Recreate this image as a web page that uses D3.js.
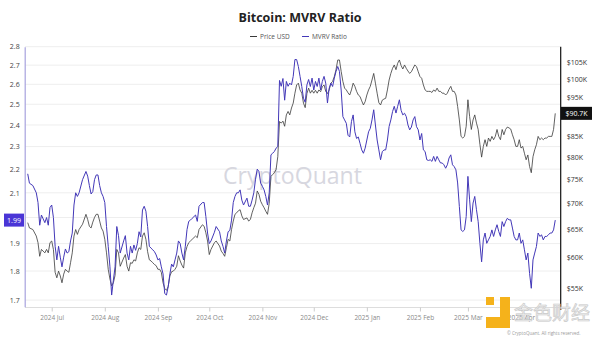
<!DOCTYPE html>
<html>
<head>
<meta charset="utf-8">
<script src="https://cdn.jsdelivr.net/npm/d3@7"></script>
<style>
  body { margin: 0; background: #fff; }
  svg { display: block; font-family: "Open Sans", "Noto Sans", sans-serif; }
</style>
</head>
<body>
<div class="container"></div>
<script>
// daily values (a few days skipped where unreadable)
const dates = [
  "2024-06-17","2024-06-18","2024-06-20","2024-06-22","2024-06-23","2024-06-24","2024-06-25","2024-06-27","2024-06-28","2024-06-29","2024-06-30",
  "2024-07-01","2024-07-02","2024-07-03","2024-07-04","2024-07-05","2024-07-06","2024-07-07","2024-07-08","2024-07-09","2024-07-10",
  "2024-07-11","2024-07-12","2024-07-13","2024-07-14","2024-07-15","2024-07-16","2024-07-17","2024-07-19","2024-07-21","2024-07-22",
  "2024-07-23","2024-07-24","2024-07-25","2024-07-26","2024-07-27","2024-07-28","2024-07-29","2024-07-30","2024-07-31",
  "2024-08-01","2024-08-02","2024-08-03","2024-08-04","2024-08-05","2024-08-06","2024-08-07","2024-08-08","2024-08-09","2024-08-10",
  "2024-08-12","2024-08-13","2024-08-14","2024-08-15","2024-08-16","2024-08-17","2024-08-18","2024-08-19","2024-08-20","2024-08-21",
  "2024-08-22","2024-08-23","2024-08-24","2024-08-25","2024-08-26","2024-08-27","2024-08-28","2024-08-29","2024-08-30","2024-08-31",
  "2024-09-01","2024-09-02","2024-09-03","2024-09-04","2024-09-05","2024-09-06","2024-09-07","2024-09-08","2024-09-09","2024-09-10",
  "2024-09-11","2024-09-12","2024-09-13","2024-09-14","2024-09-15","2024-09-16","2024-09-17","2024-09-18","2024-09-19","2024-09-20",
  "2024-09-21","2024-09-23","2024-09-24","2024-09-25","2024-09-27","2024-09-28","2024-09-29","2024-09-30",
  "2024-10-01","2024-10-02","2024-10-04","2024-10-05","2024-10-07","2024-10-08","2024-10-09","2024-10-10","2024-10-11","2024-10-12",
  "2024-10-13","2024-10-14","2024-10-15","2024-10-16","2024-10-17","2024-10-18","2024-10-19","2024-10-20","2024-10-21","2024-10-23",
  "2024-10-24","2024-10-25","2024-10-26","2024-10-27","2024-10-28","2024-10-29","2024-10-30","2024-10-31",
  "2024-11-01","2024-11-02","2024-11-03","2024-11-04","2024-11-05","2024-11-06","2024-11-07","2024-11-08","2024-11-09","2024-11-10",
  "2024-11-11","2024-11-12","2024-11-13","2024-11-14","2024-11-15","2024-11-16","2024-11-17","2024-11-18","2024-11-19","2024-11-20",
  "2024-11-21","2024-11-22","2024-11-23","2024-11-24","2024-11-25","2024-11-26","2024-11-27","2024-11-28","2024-11-29","2024-11-30",
  "2024-12-01","2024-12-02","2024-12-03","2024-12-04","2024-12-05","2024-12-06","2024-12-07","2024-12-08","2024-12-09","2024-12-10",
  "2024-12-11","2024-12-12","2024-12-13","2024-12-14","2024-12-15","2024-12-16","2024-12-17","2024-12-18","2024-12-19","2024-12-20",
  "2024-12-21","2024-12-22","2024-12-23","2024-12-24","2024-12-25","2024-12-26","2024-12-27","2024-12-28","2024-12-29","2024-12-30","2024-12-31",
  "2025-01-01","2025-01-02","2025-01-03","2025-01-04","2025-01-05","2025-01-06","2025-01-07","2025-01-08","2025-01-09","2025-01-10",
  "2025-01-11","2025-01-12","2025-01-13","2025-01-14","2025-01-15","2025-01-16","2025-01-17","2025-01-18","2025-01-19","2025-01-20",
  "2025-01-21","2025-01-22","2025-01-23","2025-01-24","2025-01-25","2025-01-26","2025-01-27","2025-01-28","2025-01-29","2025-01-30","2025-01-31",
  "2025-02-01","2025-02-02","2025-02-03","2025-02-04","2025-02-05","2025-02-06","2025-02-07","2025-02-08","2025-02-09","2025-02-10",
  "2025-02-11","2025-02-12","2025-02-13","2025-02-14","2025-02-15","2025-02-16","2025-02-17","2025-02-18","2025-02-19","2025-02-20",
  "2025-02-21","2025-02-22","2025-02-23","2025-02-24","2025-02-25","2025-02-26","2025-02-27","2025-02-28",
  "2025-03-01","2025-03-02","2025-03-03","2025-03-04","2025-03-05","2025-03-06","2025-03-07","2025-03-08","2025-03-09","2025-03-10",
  "2025-03-11","2025-03-12","2025-03-13","2025-03-14","2025-03-15","2025-03-16","2025-03-17","2025-03-18","2025-03-19","2025-03-20",
  "2025-03-21","2025-03-22","2025-03-23","2025-03-24","2025-03-25","2025-03-26","2025-03-27","2025-03-28","2025-03-29","2025-03-30","2025-03-31",
  "2025-04-01","2025-04-02","2025-04-03","2025-04-04","2025-04-05","2025-04-06","2025-04-07","2025-04-08","2025-04-09","2025-04-10",
  "2025-04-11","2025-04-12","2025-04-13","2025-04-14","2025-04-15","2025-04-16","2025-04-17","2025-04-18","2025-04-19","2025-04-20","2025-04-21"
]

const mvrv = [
  2.18,2.14,2.13,2.10,2.06,1.97,2.01,1.98,2.00,1.97,2.04,
  2.05,2.00,1.89,1.84,1.89,1.85,1.815,1.85,1.88,1.865,
  1.87,1.91,1.94,2.05,2.10,2.085,2.10,2.155,2.19,2.17,
  2.13,2.095,2.105,2.155,2.175,2.175,2.13,2.10,2.085,
  2.06,1.965,1.89,1.815,1.717,1.768,1.815,1.965,1.93,1.865,
  1.91,1.93,1.865,1.84,1.89,1.865,1.895,1.875,1.90,1.945,
  1.925,2.03,2.045,2.025,1.965,1.89,1.883,1.877,1.87,1.858,
  1.84,1.845,1.815,1.79,1.722,1.717,1.745,1.79,1.825,1.815,
  1.84,1.865,1.91,1.90,1.865,1.84,1.89,1.953,1.985,1.99,
  1.997,2.01,1.985,2.045,2.06,2.06,2.004,1.94,
  1.90,1.91,1.943,1.965,1.945,1.91,1.89,1.865,1.91,1.945,
  1.95,1.99,2.06,2.085,2.10,2.10,2.112,2.07,2.05,2.078,
  2.045,2.045,2.07,2.10,2.157,2.20,2.19,2.14,
  2.127,2.112,2.085,2.05,2.10,2.263,2.27,2.278,2.293,2.30,
  2.62,2.59,2.63,2.52,2.615,2.59,2.606,2.597,2.641,2.73,
  2.73,2.693,2.641,2.589,2.53,2.51,2.597,2.625,2.589,2.632,
  2.571,2.615,2.589,2.632,2.571,2.615,2.641,2.606,2.506,2.58,
  2.606,2.589,2.632,2.667,2.693,2.667,2.571,2.44,2.424,2.408,
  2.352,2.344,2.416,2.448,2.368,2.337,2.344,2.315,2.285,2.27,2.293,
  2.33,2.368,2.384,2.424,2.473,2.40,2.33,2.285,2.241,2.277,
  2.285,2.285,2.33,2.393,2.424,2.464,2.49,2.457,2.49,2.522,
  2.47,2.448,2.456,2.44,2.40,2.377,2.39,2.424,2.44,2.392,2.377,
  2.33,2.36,2.285,2.278,2.241,2.238,2.241,2.234,2.256,2.234,
  2.256,2.241,2.227,2.227,2.219,2.204,2.219,2.249,2.263,2.219,
  2.211,2.197,2.141,2.044,1.952,1.946,1.952,2.004,
  2.169,2.071,1.984,2.058,2.085,2.031,1.984,1.901,1.833,1.914,
  1.94,1.901,1.914,1.927,1.952,1.927,1.952,1.972,1.946,1.927,
  1.984,1.965,1.984,1.997,1.991,1.991,1.959,1.927,1.914,1.914,1.94,
  1.901,1.914,1.877,1.84,1.865,1.792,1.74,1.84,1.865,1.889,
  1.94,1.927,1.933,1.914,1.927,1.927,1.933,1.94,1.94,1.952,1.99
]

const priceUsd = [
  66300,65300,65000,63800,62600,60200,61400,60800,61400,60800,62600,
  62900,61400,57500,56600,57700,56900,55800,57200,58000,57700,
  57500,59100,60800,63800,65000,64100,65000,66000,67900,66900,
  65600,65300,66400,67300,67900,67900,66600,65300,64700,
  63200,60800,58000,56400,55300,55800,57000,61400,60800,58500,
  59900,60500,58500,57700,59100,59000,59600,59400,60800,61700,
  61400,63800,64400,63200,61000,59600,59400,59100,58800,58600,
  58000,58000,57500,55800,54900,54600,55200,56900,57600,57700,
  58000,58500,60300,59400,58700,58200,60800,61900,62600,62900,
  63200,63800,63500,65000,65900,65600,64400,62900,
  60500,61400,62600,62900,62000,61100,60700,60200,61700,63200,
  62900,65000,66600,67900,68200,68600,68800,67600,66900,67200,
  66600,66900,68200,69200,70100,72600,71900,70500,
  69800,69200,68500,67900,70100,75700,76100,76500,77200,80100,
  88600,88200,88700,87400,90300,91200,90300,92100,93400,96100,
  98400,98900,97000,96100,93400,92200,96000,97500,96100,96900,
  96100,96900,96100,97000,96500,97900,98400,96600,96000,97000,
  98900,99400,100800,102800,105700,105700,102300,99400,97500,97000,
  96200,95600,97000,98900,98000,96600,95600,95200,94000,92900,93800,
  95600,97000,98000,99800,101700,98900,96100,93500,92900,94200,
  94500,94700,97000,99800,101700,103200,104200,102800,104700,105700,
  104000,103000,104200,103200,102400,101700,102200,103200,104200,103700,102200,
  100800,100300,98400,97000,96600,96600,96600,96300,97000,96600,
  97500,96600,96600,96100,96100,95600,96100,97200,98000,96600,
  96600,95600,92500,89000,84900,84500,84900,87400,
  94300,89900,86600,89000,90300,88200,86600,83000,80000,82500,
  84100,82500,84500,83700,84900,84100,84900,86600,84900,84100,
  86600,85300,86600,87200,87000,86700,85300,84100,82500,82500,84100,
  82100,82500,80900,79400,80500,77900,76500,80100,81700,82900,
  84900,84100,84500,84100,84500,84500,84900,84900,84900,86600,90700
]

const mvrvTicks = [1.7, 1.8, 1.9, 2.0, 2.1, 2.2, 2.3, 2.4, 2.5, 2.6, 2.7, 2.8]
const priceTicks = [55000, 60000, 65000, 70000, 75000, 80000, 85000, 90000, 95000, 100000, 105000]
const monthTicks = ["2024-07-01","2024-08-01","2024-09-01","2024-10-01","2024-11-01","2024-12-01",
                    "2025-01-01","2025-02-01","2025-03-01","2025-04-01"]

const width = 600
const height = 338
const margin = { top: 46.7, bottom: 31.3, left: 24.7, right: 39.3 }
const purple = "#4338b8"
const priceColor = "#3a3a3a"

const parse = d3.utcParse("%Y-%m-%d")
const rows = dates.map((d, i) => ({ date: parse(d), mvrv: mvrv[i], price: priceUsd[i] }))
const last = rows[rows.length - 1]

let svg = d3.select(".container")
  .append("svg")
  .attr("width", width)
  .attr("height", height)
  .attr("viewBox", [0, 0, width, height])

let x = d3.scaleUtc()
  .domain([parse("2024-06-15"), parse("2025-04-24")])
  .range([24.3, 560.4])

let yLeft = d3.scaleLog()
  .domain([1.678, 2.8])
  .range([306.7, margin.top])

let yRight = d3.scaleLog()
  .domain([52100, 109800])
  .range([306.7, margin.top])

// title + legend
svg.append("text")
  .attr("x", 300).attr("y", 22)
  .attr("text-anchor", "middle")
  .attr("font-size", 12.5).attr("font-weight", 700)
  .attr("fill", "#222")
  .text("Bitcoin: MVRV Ratio")

let legend = svg.append("g").attr("font-size", 6.5).attr("fill", "#555")
let legendItems = [{ label: "Price USD", color: priceColor, x: 250 }, { label: "MVRV Ratio", color: purple, x: 302 }]
legendItems.forEach(l => {
  legend.append("line")
    .attr("x1", l.x).attr("x2", l.x + 7)
    .attr("y1", 36.5).attr("y2", 36.5)
    .attr("stroke", l.color).attr("stroke-width", 1)
  legend.append("text").attr("x", l.x + 10).attr("y", 39).text(l.label)
})

// grid
svg.append("g")
  .selectAll("line")
  .data(mvrvTicks)
  .join("line")
  .attr("x1", 25).attr("x2", 560)
  .attr("y1", d => yLeft(d)).attr("y2", d => yLeft(d))
  .attr("stroke", "#eeeeee").attr("stroke-width", 1)

// watermark
svg.append("text")
  .attr("x", 223).attr("y", 184)
  .attr("font-size", 23).attr("font-weight", 500)
  .attr("textLength", 139).attr("lengthAdjust", "spacingAndGlyphs")
  .attr("fill", "#d7d7df")
  .text("CryptoQuant")

// x axis
let xAxis = svg.append("g")
  .attr("transform", `translate(0, 307.5)`)
  .call(d3.axisBottom(x)
    .tickValues(monthTicks.map(parse))
    .tickFormat(d3.utcFormat("%Y %b"))
    .tickSize(4))
xAxis.select(".domain").attr("stroke", "#dddddd").attr("d", "M25,0H560")
xAxis.selectAll(".tick line").attr("stroke", "#cccccc")
xAxis.selectAll(".tick text")
  .attr("font-family", "'Open Sans', sans-serif")
  .attr("font-size", 6.5).attr("fill", "#8a8a8a").attr("dy", "0.9em")

// left axis (the tick hidden by the last-value badge is left out)
let yl = yLeft(last.mvrv)
let leftAxis = svg.append("g")
  .attr("transform", `translate(${margin.left}, 0)`)
  .call(d3.axisLeft(yLeft)
    .tickValues(mvrvTicks.filter(t => Math.abs(yLeft(t) - yl) > 9))
    .tickFormat(d3.format(".1f")).tickSize(0).tickPadding(5))
leftAxis.select(".domain").attr("stroke", "#a7a2de").attr("stroke-width", 1.2)
leftAxis.selectAll(".tick text")
  .attr("font-family", "'Open Sans', sans-serif")
  .attr("font-size", 7).attr("fill", "#444")

// right axis
let yr = yRight(last.price)
let rightAxis = svg.append("g")
  .attr("transform", `translate(560.7, 0)`)
  .call(d3.axisRight(yRight)
    .tickValues(priceTicks.filter(t => Math.abs(yRight(t) - yr) > 9))
    .tickFormat(d => "$" + d / 1000 + "K").tickSize(0).tickPadding(6))
rightAxis.select(".domain").attr("stroke", "#111").attr("stroke-width", 1.2).attr("d", "M0,46.7V310")
rightAxis.selectAll(".tick text")
  .attr("font-family", "'Open Sans', sans-serif")
  .attr("font-size", 7).attr("fill", "#333")

// lines
let plot = svg.append("g")

plot.append("path")
  .datum(rows)
  .attr("fill", "none")
  .attr("stroke", priceColor)
  .attr("stroke-width", 0.8)
  .attr("d", d3.line().x(d => x(d.date)).y(d => yRight(d.price)))

plot.append("path")
  .datum(rows)
  .attr("fill", "none")
  .attr("stroke", purple)
  .attr("stroke-width", 1)
  .attr("d", d3.line().x(d => x(d.date)).y(d => yLeft(d.mvrv)))

// last value badges
svg.append("rect").attr("x", 4).attr("y", yl - 6.5).attr("width", 20).attr("height", 13).attr("fill", "#4a35d6")
svg.append("text").attr("x", 14).attr("y", yl + 2.5).attr("text-anchor", "middle")
  .attr("font-size", 7).attr("fill", "#fff").text(d3.format(".2f")(last.mvrv))

svg.append("rect").attr("x", 561).attr("y", yr - 6.5).attr("width", 31).attr("height", 13).attr("fill", "#111")
svg.append("text").attr("x", 576.5).attr("y", yr + 2.5).attr("text-anchor", "middle")
  .attr("font-size", 7).attr("fill", "#fff").text("$" + (last.price / 1000).toFixed(1) + "K")

// bottom-right overlay mark
let mark = svg.append("g")
mark.append("rect").attr("x", 486).attr("y", 297).attr("width", 8).attr("height", 8).attr("fill", "#f5b21b")
mark.append("rect").attr("x", 500).attr("y", 297).attr("width", 10).attr("height", 31).attr("fill", "#f5b21b")
mark.append("rect").attr("x", 486).attr("y", 317).attr("width", 24).attr("height", 11).attr("fill", "#f5b21b")
mark.append("text").attr("x", 514).attr("y", 320)
  .attr("font-family", "'Noto Sans CJK SC', sans-serif")
  .attr("font-size", 19).attr("fill", "#ececec").attr("stroke", "#c9c9c9").attr("stroke-width", 0.6)
  .text("金色财经")
mark.append("text").attr("x", 507).attr("y", 334.5)
  .attr("font-size", 4.5).attr("fill", "#9a9a9a")
  .text("© CryptoQuant. All rights reserved.")
</script>
</body>
</html>
